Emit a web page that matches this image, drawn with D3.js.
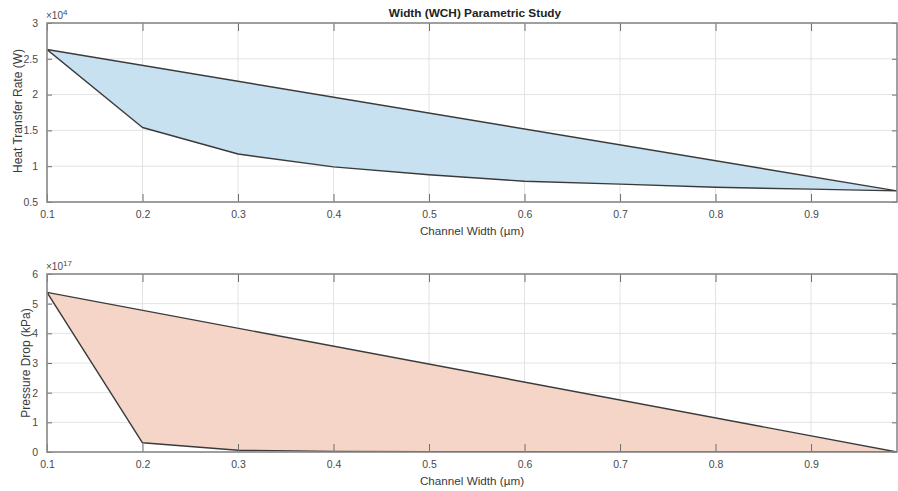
<!DOCTYPE html>
<html>
<head>
<meta charset="utf-8">
<script src="https://cdn.jsdelivr.net/npm/d3@7"></script>
<style>
  body { margin: 0; background: #fff; }
  svg { font-family: "Liberation Sans", Arial, sans-serif; }
  .tick text { fill: #4a4a4a; font-size: 10.5px; }
  .domain { display: none; }
</style>
</head>
<body>
<div id="chart"></div>
<script>
// channel width samples (µm)
const widths = [0.1, 0.2, 0.3, 0.4, 0.5, 0.6, 0.7, 0.8, 0.9, 0.99];
// heat transfer rate, in units of 1e4 W
const heatRate = [2.63, 1.54, 1.17, 0.99, 0.88, 0.79, 0.75, 0.705, 0.68, 0.655];
// pressure drop, in units of 1e17 kPa
const pressureDrop = [5.38, 0.31, 0.06, 0.02, 0.01, 0.006, 0.004, 0.002, 0.001, 0.0];

const xTicks = [0.1, 0.2, 0.3, 0.4, 0.5, 0.6, 0.7, 0.8, 0.9];
const heatTicks = [0.5, 1, 1.5, 2, 2.5, 3];
const pressTicks = [0, 1, 2, 3, 4, 5, 6];

const W = 898, H = 491;
const left = 47, right = 897;

const svg = d3.select("#chart").append("svg")
    .attr("width", W)
    .attr("height", H);

// draws one MATLAB-like subplot
function subplot(opts) {
  const x = d3.scaleLinear().domain([0.1, 0.99]).range([left, right]);
  const y = d3.scaleLinear().domain(opts.yDomain).range([opts.bottom, opts.top]);
  const g = svg.append("g");
  const clipId = "clip" + opts.id;

  g.append("clipPath").attr("id", clipId)
    .append("rect")
      .attr("x", left).attr("y", opts.top)
      .attr("width", right - left).attr("height", opts.bottom - opts.top);

  // grid
  g.append("g").selectAll("line.vg").data(xTicks).enter().append("line")
      .attr("x1", d => x(d)).attr("x2", d => x(d))
      .attr("y1", opts.top).attr("y2", opts.bottom)
      .attr("stroke", "#e3e3e3").attr("stroke-width", 1);
  g.append("g").selectAll("line.hg").data(opts.yTicks).enter().append("line")
      .attr("x1", left).attr("x2", right)
      .attr("y1", d => y(d)).attr("y2", d => y(d))
      .attr("stroke", "#e3e3e3").attr("stroke-width", 1);

  // filled polygon, the closing edge is a straight line back to the start
  const pts = widths.map((w, i) => [x(w), y(opts.values[i])]);
  g.append("path")
      .attr("clip-path", "url(#" + clipId + ")")
      .attr("d", d3.line()(pts) + "Z")
      .attr("fill", opts.fill)
      .attr("stroke", "#3a3a3a")
      .attr("stroke-width", 1.4)
      .attr("stroke-linejoin", "round");

  // axes, inward ticks
  g.append("g").attr("transform", "translate(0," + opts.bottom + ")")
    .call(d3.axisBottom(x).tickValues(xTicks).tickSize(-8).tickPadding(9)
      .tickFormat(d3.format("")));
  g.append("g").attr("transform", "translate(0," + opts.top + ")")
    .call(d3.axisTop(x).tickValues(xTicks).tickSize(-8).tickFormat(""));
  g.append("g").attr("transform", "translate(" + left + ",0)")
    .call(d3.axisLeft(y).tickValues(opts.yTicks).tickSize(-5).tickPadding(9)
      .tickFormat(d3.format("")));
  g.append("g").attr("transform", "translate(" + right + ",0)")
    .call(d3.axisRight(y).tickValues(opts.yTicks).tickSize(-5).tickFormat(""));
  g.selectAll(".tick line").attr("stroke", "#6e6e6e");

  // box
  g.append("rect")
      .attr("x", left).attr("y", opts.top)
      .attr("width", right - left).attr("height", opts.bottom - opts.top)
      .attr("fill", "none").attr("stroke", "#8a8a8a").attr("stroke-width", 1.6);

  // exponent
  const ex = g.append("text")
      .attr("x", left - 1).attr("y", opts.top - 4)
      .attr("font-size", 10).attr("fill", "#4a4a4a");
  ex.append("tspan").text("\u00d710");
  ex.append("tspan").attr("dy", -4).attr("font-size", 8).text(opts.exp);

  // labels
  g.append("text")
      .attr("x", (left + right) / 2).attr("y", opts.bottom + 33)
      .attr("text-anchor", "middle").attr("font-size", 11.7).attr("fill", "#3a3a3a")
      .text("Channel Width (\u00b5m)");
  g.append("text")
      .attr("transform", "translate(" + opts.ylabelX + "," + opts.ylabelY + ") rotate(-90)")
      .attr("text-anchor", "middle").attr("font-size", 12).attr("fill", "#3a3a3a")
      .text(opts.ylabel);
}

subplot({
  id: "a", top: 23, bottom: 202, yDomain: [0.5, 3], yTicks: heatTicks,
  values: heatRate, fill: "#c7e1f0", exp: "4",
  ylabel: "Heat Transfer Rate (W)", ylabelX: 22, ylabelY: 111
});

subplot({
  id: "b", top: 274, bottom: 452, yDomain: [0, 6], yTicks: pressTicks,
  values: pressureDrop, fill: "#f5d5c7", exp: "17",
  ylabel: "Pressure Drop (kPa)", ylabelX: 30, ylabelY: 363
});

svg.append("text")
    .attr("x", (left + right) / 2 + 3).attr("y", 17)
    .attr("text-anchor", "middle")
    .attr("font-size", 11.8).attr("font-weight", "bold").attr("fill", "#222")
    .text("Width (WCH) Parametric Study");
</script>
</body>
</html>
